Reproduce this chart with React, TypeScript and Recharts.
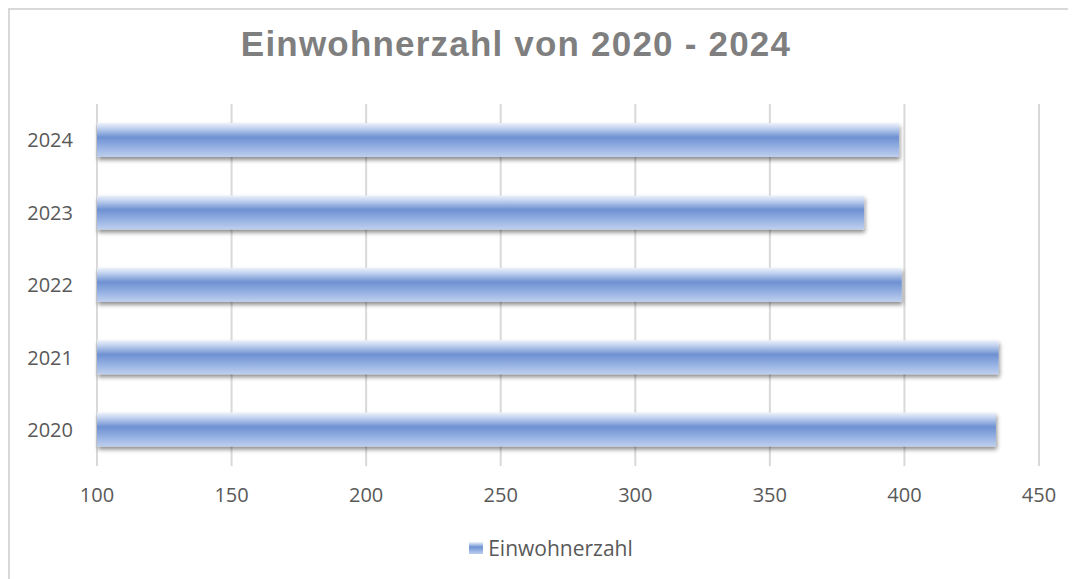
import React from 'react'
import { Bar, BarChart, CartesianGrid, Legend, XAxis, YAxis } from 'recharts'

const years = ['2020', '2021', '2022', '2023', '2024']
const einwohner = [434, 435, 399, 385, 398]
const xTicks = [100, 150, 200, 250, 300, 350, 400, 450]

const data = years.map((year, i) => ({ year, Einwohnerzahl: einwohner[i] }))

const tickStyle = { fontFamily: '"Open Sans", sans-serif', fontSize: 20, fill: '#595959' }

function LegendContent() {
  return (
    <div style={{ display: 'flex', alignItems: 'center', justifyContent: 'center', height: 24 }}>
      <svg width={14} height={12} style={{ marginRight: 5 }}>
        <rect x={0} y={0} width={14} height={12} fill="url(#barGrad)" />
      </svg>
      <span style={{ fontFamily: '"Open Sans", sans-serif', fontSize: 21, color: '#595959' }}>
        Einwohnerzahl
      </span>
    </div>
  )
}

export default function App() {
  return (
    <div style={{ position: 'relative', width: 1068, height: 571, overflow: 'hidden' }}>
      <div
        style={{
          position: 'absolute',
          left: 0,
          top: 0,
          width: 1100,
          height: 600,
          borderTop: '2px solid #d9d9d9',
          borderLeft: '2px solid #d9d9d9',
        }}
      />
      <div
        style={{
          position: 'absolute',
          left: 108,
          top: 18,
          width: 800,
          textAlign: 'center',
          fontFamily: '"Liberation Sans", Arial, sans-serif',
          fontWeight: 'bold',
          fontSize: 35,
          letterSpacing: 1.2,
          lineHeight: '35px',
          color: '#7f7f7f',
        }}
      >
        Einwohnerzahl von 2020 - 2024
      </div>
      <BarChart
        width={1068}
        height={571}
        data={data}
        layout="vertical"
        margin={{ top: 96, right: 37, left: 9, bottom: 59 }}
        style={{ position: 'absolute', left: 0, top: 0 }}
      >
        <defs>
          <linearGradient id="barGrad" x1="0" y1="0" x2="0" y2="1">
            <stop offset="0" stopColor="#eef2fa" />
            <stop offset="0.15" stopColor="#c3d3ef" />
            <stop offset="0.42" stopColor="#6e91d2" />
            <stop offset="0.7" stopColor="#93afe2" />
            <stop offset="1" stopColor="#bfcfee" />
          </linearGradient>
          <filter id="barShadow" x="-5%" y="-30%" width="110%" height="180%">
            <feDropShadow dx="1" dy="3" stdDeviation="2" floodColor="#000" floodOpacity="0.45" />
          </filter>
        </defs>
        <CartesianGrid horizontal={false} stroke="#d9d9d9" strokeWidth={2} />
        <XAxis
          type="number"
          domain={[100, 450]}
          ticks={xTicks}
          axisLine={false}
          tickLine={false}
          tickSize={0}
          tickMargin={22}
          height={30}
          tick={tickStyle}
          interval={0}
        />
        <YAxis
          type="category"
          dataKey="year"
          reversed
          width={80}
          axisLine={false}
          tickLine={false}
          tickSize={0}
          tickMargin={24}
          tick={tickStyle}
        />
        <Legend
          verticalAlign="bottom"
          content={<LegendContent />}
          wrapperStyle={{ top: 528, bottom: 'auto', left: 9, width: 1068 }}
        />
        <Bar
          dataKey="Einwohnerzahl"
          fill="url(#barGrad)"
          barSize={34}
          filter="url(#barShadow)"
          isAnimationActive={false}
        />
      </BarChart>
    </div>
  )
}
